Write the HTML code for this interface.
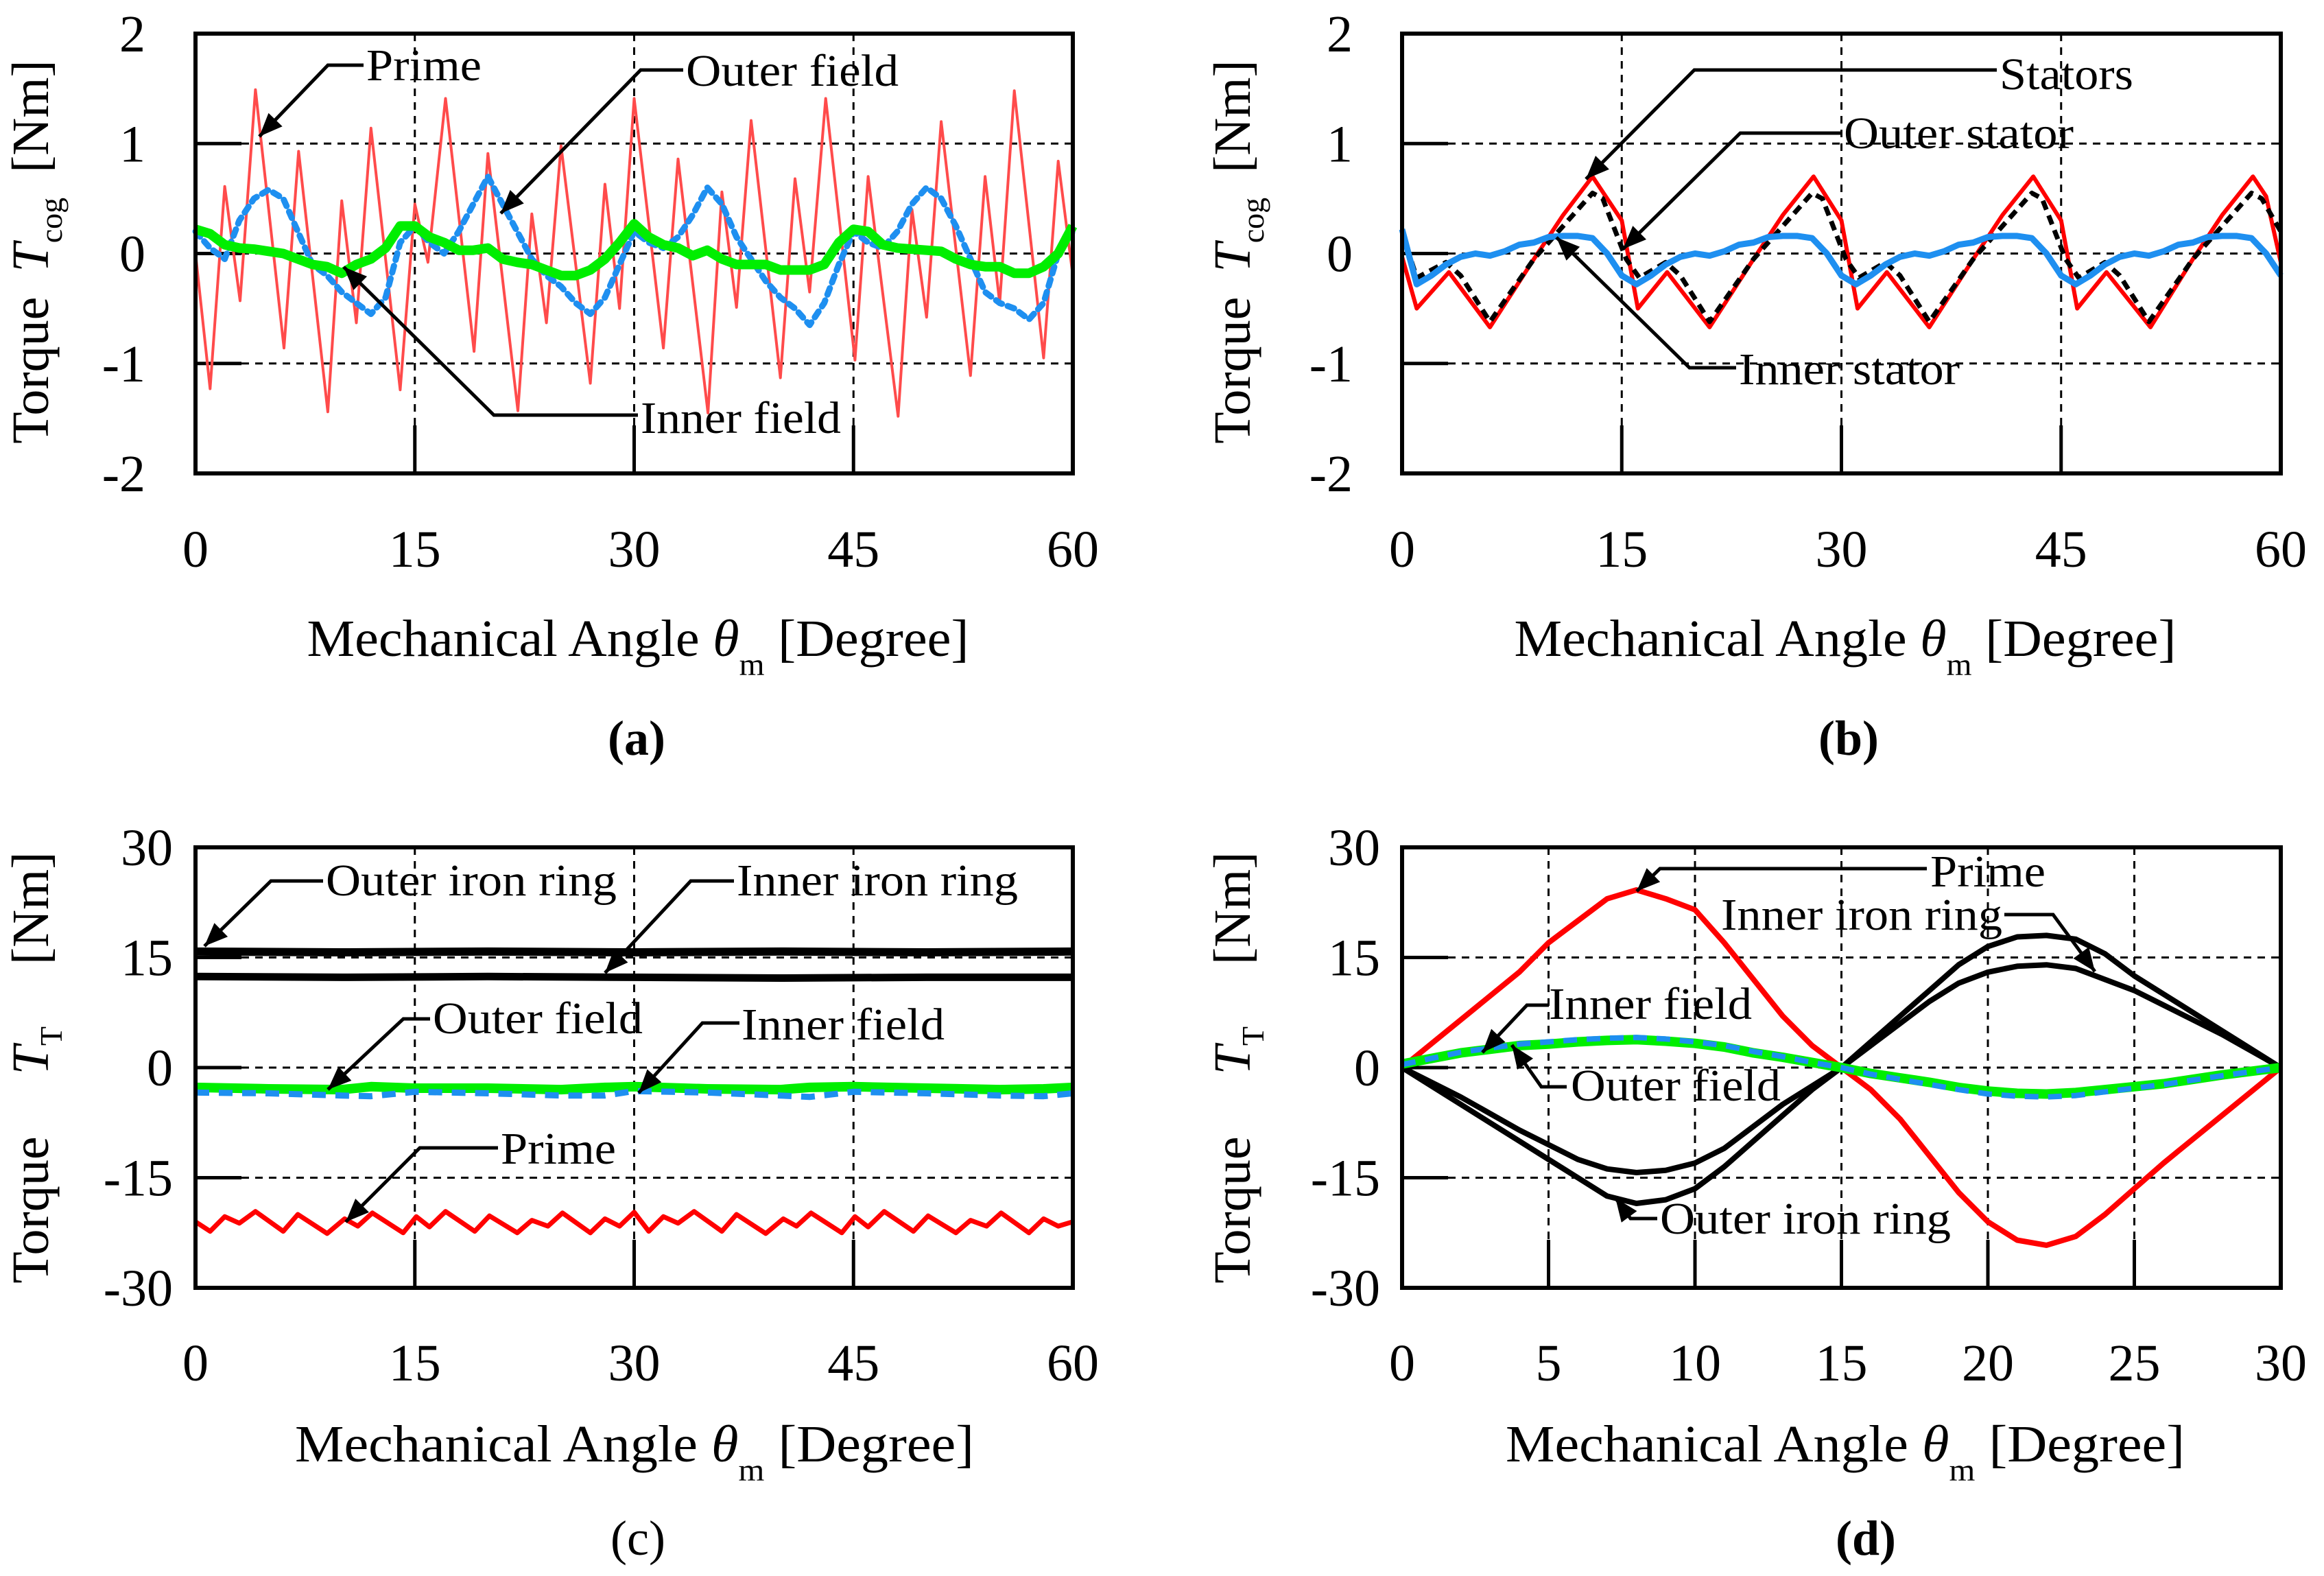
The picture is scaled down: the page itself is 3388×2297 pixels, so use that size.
<!DOCTYPE html>
<html><head><meta charset="utf-8"><title>Torque figure</title>
<style>html,body{margin:0;padding:0;background:#fff}svg{display:block}text{font-family:"Liberation Serif",serif;fill:#000}</style>
</head><body>
<svg id="fig" xmlns="http://www.w3.org/2000/svg" width="3388" height="2297" viewBox="0 0 3388 2297"></svg>
<script>
// ---------- DATA ----------
const xTicks60 = [0, 15, 30, 45, 60];
const xTicks30 = [0, 5, 10, 15, 20, 25, 30];
const yTicksCog = [-2, -1, 0, 1, 2];
const yTicksT = [-30, -15, 0, 15, 30];

// (a) cogging torque
const aPrimeX = [0,1,2,3.05,4.1,6.05,7.05,9.05,10,11,12,14,15,15.9,17.1,19.05,20,22.05,23,24,25,27,28,29,30,32,33,35.05,36,37,38,40,41,42,43.1,45.1,46,48.05,49,50,51,53,54,55,56,58,59,60];
const aPrimeY = [0,-1.23,0.61,-0.43,1.49,-0.86,0.93,-1.44,0.48,-0.63,1.14,-1.24,0.45,-0.08,1.41,-0.89,0.91,-1.43,0.36,-0.63,0.98,-1.18,0.63,-0.5,1.41,-0.86,0.86,-1.45,0.56,-0.49,1.21,-1.13,0.68,-0.35,1.41,-0.97,0.7,-1.48,0.4,-0.58,1.2,-1.11,0.7,-0.45,1.48,-0.95,0.84,-0.2];
const aOuterFieldY = [0.2,0.05,-0.05,0.3,0.5,0.58,0.5,0.2,-0.1,-0.2,-0.35,-0.45,-0.55,-0.4,0.1,0.25,0.1,0.0,0.2,0.45,0.7,0.45,0.2,-0.05,-0.2,-0.3,-0.45,-0.55,-0.4,-0.1,0.2,0.1,0.05,0.15,0.35,0.6,0.45,0.15,-0.05,-0.25,-0.4,-0.5,-0.65,-0.45,-0.1,0.2,0.1,0.05,0.2,0.45,0.6,0.5,0.25,-0.05,-0.35,-0.45,-0.5,-0.6,-0.45,0.0,0.2];
const aInnerFieldY = [0.22,0.18,0.08,0.05,0.04,0.02,0.0,-0.05,-0.1,-0.12,-0.18,-0.1,-0.05,0.05,0.25,0.25,0.15,0.1,0.03,0.03,0.05,-0.05,-0.08,-0.1,-0.15,-0.2,-0.2,-0.15,-0.05,0.1,0.27,0.15,0.08,0.05,-0.02,0.03,-0.05,-0.1,-0.1,-0.1,-0.15,-0.15,-0.15,-0.1,0.1,0.22,0.2,0.08,0.05,0.04,0.03,0.02,-0.05,-0.1,-0.12,-0.12,-0.18,-0.18,-0.12,0.0,0.25];

// (b) stator cogging torque
const bStatorsX = [0,1,3.2,6,9,11,13,15,16.1,18.1,21,24,26,28.1,30,31.1,33.1,36,39,41,43.1,45,46.1,48.1,51.1,54,56,58.1,59,60];
const bStatorsY = [-0.03,-0.5,-0.17,-0.67,-0.05,0.35,0.7,0.3,-0.5,-0.17,-0.67,-0.05,0.35,0.7,0.3,-0.5,-0.17,-0.67,-0.05,0.35,0.7,0.3,-0.5,-0.17,-0.67,-0.05,0.35,0.7,0.52,-0.08];
const bOuterX = [0,1,3,4,6,9,11,13,13.7,15.3,16.2,18,19,21,24,26,28,28.7,30.3,31.2,33,34,36,39,41,43,43.7,45.3,46.2,48,49,51,54,56,58,58.7,60];
const bOuterY = [0.2,-0.22,-0.08,-0.2,-0.62,-0.05,0.25,0.55,0.5,-0.05,-0.22,-0.08,-0.2,-0.62,-0.05,0.25,0.55,0.5,-0.05,-0.22,-0.08,-0.2,-0.62,-0.05,0.25,0.55,0.5,-0.05,-0.22,-0.08,-0.2,-0.62,-0.05,0.25,0.55,0.5,0.2];
const bInnerY = [0.22,-0.28,-0.2,-0.1,-0.03,0.0,-0.02,0.02,0.08,0.1,0.15,0.16,0.16,0.14,0.0,-0.2,-0.28,-0.2,-0.1,-0.03,0.0,-0.02,0.02,0.08,0.1,0.15,0.16,0.16,0.14,0.0,-0.2,-0.28,-0.2,-0.1,-0.03,0.0,-0.02,0.02,0.08,0.1,0.15,0.16,0.16,0.14,0.0,-0.2,-0.28,-0.2,-0.1,-0.03,0.0,-0.02,0.02,0.08,0.1,0.15,0.16,0.16,0.14,0.0,-0.2];

// (c) total torque vs angle (0-60)
const cOuterRingY = [15.8,15.7,15.8,15.7,15.8,15.7,15.8];
const cInnerRingY = [12.4,12.3,12.4,12.3,12.2,12.3,12.3];
const cRingX = [0,10,20,30,40,50,60];
const cPrimeX = [0,1,2,3,4.1,6,7,9,10.2,11.1,12.1,14.2,15.1,16,17.1,19.1,20.1,22,23,24.1,25.1,27,28,29,30,31,32,33,34.1,36,37,39,40.2,41.1,42.1,44.2,45.1,46,47.1,49.1,50.1,52,53,54.1,55.1,57,58,59,60];
const cPrimeY = [-21,-22.3,-20.3,-21.2,-19.6,-22.3,-20,-22.6,-20.6,-21.6,-19.8,-22.5,-20.3,-21.7,-19.6,-22.3,-20.2,-22.5,-20.8,-21.6,-19.8,-22.5,-20.6,-21.6,-19.7,-22.3,-20.3,-21.2,-19.6,-22.3,-20,-22.6,-20.6,-21.6,-19.8,-22.5,-20.3,-21.7,-19.6,-22.3,-20.2,-22.5,-20.8,-21.6,-19.8,-22.5,-20.6,-21.6,-21];
const cFieldX = [0,5,10,12,15,20,25,28,30,35,40,42,45,50,55,58,60];
const cInnerFieldY = [-2.7,-2.9,-3.0,-2.6,-2.8,-2.8,-3.0,-2.7,-2.6,-2.9,-3.0,-2.7,-2.6,-2.8,-3.0,-2.9,-2.7];
const cOuterFieldY = [-3.4,-3.5,-3.8,-3.9,-3.3,-3.5,-3.8,-3.8,-3.2,-3.4,-3.8,-4.0,-3.3,-3.5,-3.8,-3.9,-3.5];

// (d) total torque vs angle (0-30)
const dX = [0,2,4,5,6,7,8,9,10,11,12,13,14,15,16,17,18,19,20,21,22,23,24,25,26,28,30];
const dPrimeY = [0,6.5,13,17,20,23,24.2,23,21.5,17,12,7,3,0,-3,-7,-12,-17,-21,-23.5,-24.2,-23,-20,-16.5,-13,-6.5,0];
const dRing1Y = [0,-4,-8.5,-10.5,-12.5,-13.8,-14.3,-14,-13,-11,-8,-5,-2.5,0,3.5,7,10.5,14,16.5,17.8,18,17.5,15.5,12.5,10,5,0];
const dRing2Y = [0,-5,-10,-12.5,-15,-17.5,-18.5,-18,-16.5,-13.5,-10,-6.5,-3,0,3,6,9,11.5,13,13.8,14,13.5,12,10.5,8.5,4.5,0];
const dInnerFieldY = [0.5,2,3,3.2,3.5,3.7,3.8,3.6,3.3,2.8,2,1.4,0.7,0,-0.8,-1.4,-2,-2.7,-3.2,-3.5,-3.6,-3.4,-3,-2.6,-2.2,-1,0];
const dOuterFieldY = [0.4,2.1,3.2,3.5,3.8,4.0,4.1,3.9,3.5,3.0,2.2,1.5,0.7,0,-0.9,-1.6,-2.3,-3.0,-3.6,-3.9,-4.0,-3.8,-3.3,-2.8,-2.3,-1.1,0];

// ---------- RENDER ----------
const NS = 'http://www.w3.org/2000/svg';
const svg = document.getElementById('fig');
function mk(tag, attrs, parent) {
  const el = document.createElementNS(NS, tag);
  for (const k in attrs) el.setAttribute(k, attrs[k]);
  (parent || svg).appendChild(el);
  return el;
}
function makeAxes(p) {
  p.sx = v => p.x0 + (v - p.xmin) / (p.xmax - p.xmin) * (p.x1 - p.x0);
  p.sy = v => p.y1 - (v - p.ymin) / (p.ymax - p.ymin) * (p.y1 - p.y0);
  return p;
}
function drawFrame(p, name, xt, yt) {
  const g = mk('g', {});
  
  
  xt.forEach(v => {
    if (v === p.xmin || v === p.xmax) return;
    const x = p.sx(v);
    const gl = mk('line', {x1:x, y1:p.y0, x2:x, y2:p.y1 - 70, stroke:'#000', 'stroke-width':3, 'stroke-dasharray':'11 9'}, g);
    
    
    const tk = mk('line', {x1:x, y1:p.y1 - 70, x2:x, y2:p.y1, stroke:'#000', 'stroke-width':5}, g);
    
    
  });
  yt.forEach(v => {
    if (v === p.ymin || v === p.ymax) return;
    const y = p.sy(v);
    const gl = mk('line', {x1:p.x0 + 67, y1:y, x2:p.x1, y2:y, stroke:'#000', 'stroke-width':3, 'stroke-dasharray':'11 9'}, g);
    
    
    const tk = mk('line', {x1:p.x0, y1:y, x2:p.x0 + 67, y2:y, stroke:'#000', 'stroke-width':5}, g);
    
    
  });
  xt.forEach(v => {
    const t = mk('text', {x:p.sx(v), y:p.xlabY, 'font-size':76, 'text-anchor':'middle'}, g);
    t.textContent = String(v);
    
    
  });
  yt.forEach(v => {
    const t = mk('text', {x:p.ylabR, y:p.sy(v) + 26, 'font-size':76, 'text-anchor':'end'}, g);
    t.textContent = String(v);
    
    
  });
}
function drawBox(p, name) {
  const r = mk('rect', {x:p.x0, y:p.y0, width:p.x1 - p.x0, height:p.y1 - p.y0, fill:'none', stroke:'#000', 'stroke-width':6});
  
  
}
function drawSeries(p, xs, ys, style, name) {
  const pts = xs.map((x, i) => p.sx(x).toFixed(1) + ',' + p.sy(ys[i]).toFixed(1)).join(' ');
  const a = Object.assign({points:pts, fill:'none', 'stroke-linejoin':'round'}, style);
  const pl = mk('polyline', a);
  
  
}
function seq(n) { const r = []; for (let i = 0; i < n; i++) r.push(i); return r; }
function annot(label, tx, ty, pts, name, len) {
  const g = mk('g', {});
  
  
  const pl = mk('polyline', {points:pts.map(q => q.join(',')).join(' '), fill:'none', stroke:'#000', 'stroke-width':5}, g);
  
  
  const [ax, ay] = pts[pts.length - 1], [bx, by] = pts[pts.length - 2];
  const ang = Math.atan2(ay - by, ax - bx), L = 34, Wd = 14;
  const p1 = [ax - L * Math.cos(ang) + Wd * Math.sin(ang), ay - L * Math.sin(ang) - Wd * Math.cos(ang)];
  const p2 = [ax - L * Math.cos(ang) - Wd * Math.sin(ang), ay - L * Math.sin(ang) + Wd * Math.cos(ang)];
  const ah = mk('polygon', {points:[[ax, ay], p1, p2].map(q => q.join(',')).join(' '), fill:'#000'}, g);
  
  
  const t = mk('text', {x:tx, y:ty, 'font-size':66, textLength:len, lengthAdjust:'spacingAndGlyphs'}, g);
  t.textContent = label;
  
  
}
function xTitle(cx, by, name, len) {
  const t = mk('text', {x:cx, y:by, 'font-size':76, 'text-anchor':'middle', textLength:len, lengthAdjust:'spacingAndGlyphs'});
  t.innerHTML = 'Mechanical Angle <tspan font-style="italic">θ</tspan><tspan font-size="46" dy="28">m</tspan><tspan dy="-28">  [Degree]</tspan>';
  
  
}
function yTitle(cx, cy, sub, name, gap) {
  const t = mk('text', {x:0, y:0, 'font-size':76, 'text-anchor':'middle', transform:'translate(' + cx + ',' + cy + ') rotate(-90)'});
  t.innerHTML = 'Torque<tspan dx="' + gap + '" font-style="italic">T</tspan><tspan font-size="46" dy="20">' + sub + '</tspan><tspan dx="' + gap + '" dy="-20">[Nm]</tspan>';
  
  
}
function panelLabel(cx, by, s, name) {
  const t = mk('text', {x:cx, y:by, 'font-size':72, 'text-anchor':'middle', 'font-weight': s === 'c' ? 'normal' : 'bold'});
  t.textContent = '(' + s + ')';
  
  
}

const PA = makeAxes({x0:285, x1:1564, y0:49, y1:690, xmin:0, xmax:60, ymin:-2, ymax:2, xlabY:826, ylabR:212});
const PB = makeAxes({x0:2044, x1:3325, y0:49, y1:690, xmin:0, xmax:60, ymin:-2, ymax:2, xlabY:826, ylabR:1972});
const PC = makeAxes({x0:285, x1:1564, y0:1235, y1:1877, xmin:0, xmax:60, ymin:-30, ymax:30, xlabY:2012, ylabR:252});
const PD = makeAxes({x0:2044, x1:3325, y0:1235, y1:1877, xmin:0, xmax:30, ymin:-30, ymax:30, xlabY:2012, ylabR:2012});

drawFrame(PA, 'panel-a', xTicks60, yTicksCog);
drawFrame(PB, 'panel-b', xTicks60, yTicksCog);
drawFrame(PC, 'panel-c', xTicks60, yTicksT);
drawFrame(PD, 'panel-d', xTicks30, yTicksT);

// (a)
drawSeries(PA, aPrimeX, aPrimeY, {stroke:'#ff4b4b', 'stroke-width':4}, 'a-prime-line');
drawSeries(PA, seq(aOuterFieldY.length), aOuterFieldY, {stroke:'#1e8ff0', 'stroke-width':9, 'stroke-dasharray':'10 9', 'stroke-linecap':'round'}, 'a-outer-field-line');
drawSeries(PA, seq(aInnerFieldY.length), aInnerFieldY, {stroke:'#00ee00', 'stroke-width':14}, 'a-inner-field-line');
// (b)
drawSeries(PB, bStatorsX, bStatorsY, {stroke:'#ff0000', 'stroke-width':6}, 'b-stators-line');
drawSeries(PB, bOuterX, bOuterY, {stroke:'#000', 'stroke-width':7, 'stroke-dasharray':'14 9'}, 'b-outer-stator-line');
drawSeries(PB, seq(bInnerY.length), bInnerY, {stroke:'#1e8ff0', 'stroke-width':9}, 'b-inner-stator-line');
// (c)
drawSeries(PC, cRingX, cOuterRingY, {stroke:'#000', 'stroke-width':12}, 'c-outer-iron-ring-line');
drawSeries(PC, cRingX, cInnerRingY, {stroke:'#000', 'stroke-width':11}, 'c-inner-iron-ring-line');
drawSeries(PC, cFieldX, cInnerFieldY, {stroke:'#00ee00', 'stroke-width':14}, 'c-inner-field-line');
drawSeries(PC, cFieldX, cOuterFieldY, {stroke:'#1e8ff0', 'stroke-width':9, 'stroke-dasharray':'20 14'}, 'c-outer-field-line');
drawSeries(PC, cPrimeX, cPrimeY, {stroke:'#ff0000', 'stroke-width':7}, 'c-prime-line');
// (d)
drawSeries(PD, dX, dPrimeY, {stroke:'#ff0000', 'stroke-width':8}, 'd-prime-line');
drawSeries(PD, dX, dRing1Y, {stroke:'#000', 'stroke-width':8}, 'd-inner-iron-ring-line');
drawSeries(PD, dX, dRing2Y, {stroke:'#000', 'stroke-width':8}, 'd-outer-iron-ring-line');
drawSeries(PD, dX, dInnerFieldY, {stroke:'#00ee00', 'stroke-width':14}, 'd-inner-field-line');
drawSeries(PD, dX, dOuterFieldY, {stroke:'#1e8ff0', 'stroke-width':8, 'stroke-dasharray':'20 14'}, 'd-outer-field-line');

drawBox(PA, 'panel-a'); drawBox(PB, 'panel-b'); drawBox(PC, 'panel-c'); drawBox(PD, 'panel-d');

// annotations
annot('Prime', 534, 117, [[530,95],[478,95],[378,199]], 'a-annotation-prime', 168);
annot('Outer field', 1000, 125, [[996,102],[934,102],[730,311]], 'a-annotation-outer-field', 310);
annot('Inner field', 934, 631, [[930,605],[720,605],[501,389]], 'a-annotation-inner-field', 292);
annot('Stators', 2915, 130, [[2911,102],[2470,102],[2312,261]], 'b-annotation-stators', 195);
annot('Outer stator', 2688, 216, [[2684,194],[2537,194],[2366,363]], 'b-annotation-outer-stator', 335);
annot('Inner stator', 2535, 560, [[2531,536],[2463,536],[2269,346]], 'b-annotation-inner-stator', 322);
annot('Outer iron ring', 475, 1305, [[471,1284],[395,1284],[298,1379]], 'c-annotation-outer-iron-ring', 424);
annot('Inner iron ring', 1074, 1305, [[1070,1284],[1007,1284],[882,1418]], 'c-annotation-inner-iron-ring', 410);
annot('Outer field', 631, 1506, [[627,1485],[588,1485],[478,1588]], 'c-annotation-outer-field', 306);
annot('Inner field', 1081, 1515, [[1078,1491],[1024,1491],[931,1593]], 'c-annotation-inner-field', 296);
annot('Prime', 730, 1696, [[726,1673],[612,1673],[504,1781]], 'c-annotation-prime', 168);
annot('Prime', 2814, 1292, [[2809,1266],[2420,1266],[2386,1299]], 'd-annotation-prime', 168);
annot('Inner iron ring', 2509, 1355, [[2922,1333],[2993,1333],[3054,1416]], 'd-annotation-inner-iron-ring', 410);
annot('Inner field', 2258, 1485, [[2258,1465],[2226,1465],[2161,1534]], 'd-annotation-inner-field', 296);
annot('Outer field', 2290, 1604, [[2284,1584],[2247,1584],[2204,1523]], 'd-annotation-outer-field', 306);
annot('Outer iron ring', 2420, 1798, [[2416,1776],[2377,1776],[2355,1746]], 'd-annotation-outer-iron-ring', 424);

// titles
xTitle(930, 956, 'a-x-axis-title', 965);
xTitle(2690, 956, 'b-x-axis-title', 965);
xTitle(925, 2130, 'c-x-axis-title', 990);
xTitle(2690, 2130, 'd-x-axis-title', 990);
yTitle(70, 367, 'cog', 'a-y-axis-title', 36);
yTitle(1822, 367, 'cog', 'b-y-axis-title', 36);
yTitle(70, 1556, 'T', 'c-y-axis-title', 90);
yTitle(1822, 1556, 'T', 'd-y-axis-title', 90);
panelLabel(928, 1100, 'a', 'panel-a-label');
panelLabel(2695, 1100, 'b', 'panel-b-label');
panelLabel(930, 2266, 'c', 'panel-c-label');
panelLabel(2720, 2266, 'd', 'panel-d-label');
</script>
</body></html>
